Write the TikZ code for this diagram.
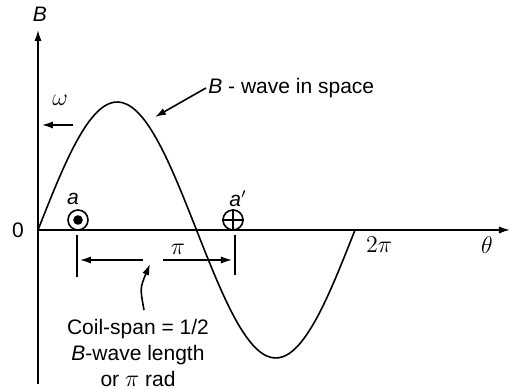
\documentclass[tikz,border=0pt]{standalone}
\usepackage{fontspec}
\setmainfont{Liberation Sans}
\usetikzlibrary{arrows.meta,positioning}

\tikzset{
  lin/.style={line width=0.8pt},
  flecha/.style={lin,-{Latex[length=5.5pt,width=3.6pt]}},
  etiq/.style={font=\fontsize{10.5}{12.5}\selectfont,inner sep=1pt},
  etiqm/.style={font=\fontsize{12.5}{14}\selectfont,inner sep=1pt},
  conductor/.style={draw,lin,circle,minimum size=10pt,inner sep=0pt},
}

\begin{document}
\begin{tikzpicture}[x=0.5pt,y=0.5pt]
\useasboundingbox (-38,-159) rectangle (473,230);
% ejes
\coordinate (o) at (0,0);
\coordinate (ytop) at (0,200);
\coordinate (ybot) at (0,-154);
\coordinate (xfin) at (472,0);
\draw[flecha] (ybot) -- (ytop);
\draw[flecha] (o) -- (xfin);
\node[etiq] (lblB) at (2,216) {\textit{B}};
\node[etiqm] (lblth) at (449,-15) {$\theta$};
\node[etiq] (lblcero) at (-20,0) {0};
\node[etiqm] (lbldospi) at (341,-15) {$2\pi$};
% onda B
\draw[lin] plot[domain=0:317,samples=80,smooth] (\x,{128*sin(\x/317*360)});
\coordinate (omA) at (35,105);
\coordinate (omB) at (4,105);
\draw[flecha] (omA) -- (omB);
\node[etiqm] (lblom) at (22,130) {$\omega$};
\node[etiq,anchor=west] (lblonda) at (168,142) {\textit{B} - wave in space};
\coordinate (ondapunta) at (117,113);
\draw[flecha] (lblonda.west) -- (ondapunta);
% conductores
\node[conductor] (ca) at (40,10) {};
\fill (ca.center) circle (2.4pt);
\node[etiq] (lbla) at (35,31) {\textit{a}};
\node[conductor] (cb) at (195,10) {};
\draw[lin] (cb.north) -- (cb.south) (cb.west) -- (cb.east);
\node[etiq] (lblb) at (200,31) {\textit{a}$'$};
% paso de bobina
\coordinate (t1a) at (39,-5);
\coordinate (t1b) at (39,-47);
\coordinate (t2a) at (197,-5);
\coordinate (t2b) at (197,-45);
\draw[lin] (t1a) -- (t1b);
\draw[lin] (t2a) -- (t2b);
\coordinate (dimA) at (105,-30);
\coordinate (dimB) at (125,-30);
\draw[flecha] (dimA) -- (42,-30);
\draw[flecha] (dimB) -- (194,-30);
\node[etiqm] (lblpi) at (140,-19) {$\pi$};
\node[etiq,align=center,font=\fontsize{10.5}{12.8}\selectfont] (texto) at (100,-123)
  {Coil-span = 1/2\\\textit{B}-wave length\\or {\fontsize{12.5}{12.8}\selectfont$\pi$} rad};
\coordinate (curvaA) at (106,-80);
\coordinate (curvaB) at (112,-34);
\draw[flecha] (curvaA) .. controls (102,-58) .. (curvaB);
\end{tikzpicture}
\end{document}
